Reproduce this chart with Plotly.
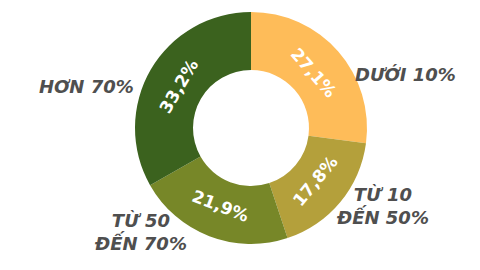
import math
import plotly.graph_objects as go

categories = ["DƯỚI 10%", "TỪ 10<br>ĐẾN 50%", "TỪ 50<br>ĐẾN 70%", "HƠN 70%"]
values = [27.1, 17.8, 21.9, 33.2]
value_labels = ["27,1%", "17,8%", "21,9%", "33,2%"]
colors = ["#FEBC59", "#B4A03B", "#778728", "#3B621E"]
label_pos = [(405, 74), (382, 206), (140, 232), (86, 86)]

W, H = 480, 270
dom_x = [135 / W, 367 / W]
dom_y = [26 / H, 258 / H]

fig = go.Figure(go.Pie(
    labels=categories,
    values=values,
    textinfo="none",
    marker=dict(colors=colors, line=dict(width=0)),
    hole=0.5,
    sort=False,
    direction="clockwise",
    rotation=0,
    showlegend=False,
    hoverinfo="label+percent",
    domain=dict(x=dom_x, y=dom_y),
))

# inside value labels, placed tangentially at the middle of each slice
cx = (dom_x[0] + dom_x[1]) / 2 * W
cy = H - (dom_y[0] + dom_y[1]) / 2 * H
R = min((dom_x[1] - dom_x[0]) * W, (dom_y[1] - dom_y[0]) * H) / 2
rm = R * 0.72
total = sum(values)
cum = 0.0
for v, t in zip(values, value_labels):
    th = 360 * (cum + v / 2) / total
    cum += v
    rad = math.radians(th)
    px = cx + rm * math.sin(rad)
    py = cy - rm * math.cos(rad)
    ang = th
    if 90 < ang < 270:
        ang -= 180
    elif ang >= 270:
        ang -= 360
    fig.add_annotation(
        x=px / W, y=1 - py / H, xref="paper", yref="paper",
        text=t, showarrow=False, xanchor="center", yanchor="middle",
        textangle=ang,
        font=dict(family="DejaVu Sans", size=17, color="white", weight="bold"),
    )

for lab, (px, py) in zip(categories, label_pos):
    fig.add_annotation(
        x=px / W, y=1 - py / H, xref="paper", yref="paper",
        text=lab, showarrow=False, xanchor="center", yanchor="middle",
        align="center",
        font=dict(family="DejaVu Sans", size=18, color="#4F4F4F", weight="bold", style="italic"),
    )

fig.update_layout(
    width=W, height=H,
    margin=dict(l=0, r=0, t=0, b=0),
    paper_bgcolor="white", plot_bgcolor="white",
)

fig.write_html("out.html")
